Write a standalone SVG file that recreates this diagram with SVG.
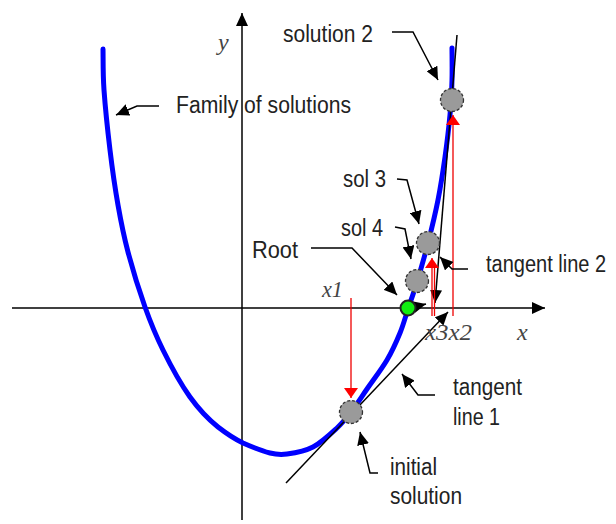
<svg xmlns="http://www.w3.org/2000/svg" width="616" height="524" viewBox="0 0 616 524">
<style>
.lbl{font-family:"Liberation Sans",Arial,sans-serif;font-size:23px;fill:#222}
.var{font-family:"Liberation Serif","Times New Roman",serif;font-style:italic;font-size:24px;fill:#444}
.ax{stroke:#000;stroke-width:1.5;fill:none}
.call{stroke:#000;stroke-width:1.5;fill:none;marker-end:url(#ah)}
.red{stroke:#e00;stroke-width:1.3;fill:none}
.sol{fill:#9a9a9a;stroke:#333;stroke-width:1.3;stroke-dasharray:3 2}
</style>
<defs>
<marker id="ah" markerUnits="userSpaceOnUse" markerWidth="14" markerHeight="12" refX="13" refY="6" orient="auto"><path d="M0,0 L13,6 L0,12 z" fill="#000"/></marker>
<marker id="rah" markerUnits="userSpaceOnUse" markerWidth="12" markerHeight="14" refX="10" refY="7" orient="auto"><path d="M0,0 L10,7 L0,14 z" fill="#f00"/></marker>
</defs>
<rect width="616" height="524" fill="#fff"/>
<g id="axes">
<path class="ax" d="M12,308 L545,308" marker-end="url(#ah)"/>
<path class="ax" d="M242,520 L242,13" marker-end="url(#ah)"/>
<text class="var" x="218" y="50">y</text>
<text class="var" x="517" y="340">x</text>
</g>
<g id="curve">
<path d="M103,49 C103.2,55.8 102.8,73.2 104,90 C105.2,106.8 107.7,130.8 110,150 C112.3,169.2 115,188 118,205 C121,222 123.5,235 128,252 C132.5,269 139.2,290.7 145,307 C150.8,323.3 155.5,334.8 163,350 C170.5,365.2 180,383 190,397 C199,409.5 208,419 218,427 C227,434 234.7,439 243,443 C251.3,446.7 262.7,451.2 270,453 C277.3,454.8 279.8,455 287,454 C294.2,453 304.7,451.3 313,447 C321.3,442.7 330.7,433.8 337,428 C343.3,422.2 346,418.5 351,412 C356,405.5 361,397.7 367,389 C373,380.3 381.5,369.3 387,360 C392.5,350.7 396.5,341.5 400,333 C403.5,324.5 405.2,317.5 408,309 C410.8,300.5 413.7,293 417,282 C420.3,271 424.5,256.7 428,243 C431.5,229.3 435.2,214.3 438,200 C440.8,185.7 443,171.2 445,157 C447,142.8 448.8,127.8 450,115 C451.2,102.2 451.7,91.2 452,80 C452.3,68.8 452,53.3 452,48" fill="none" stroke="#0000ff" stroke-width="5" stroke-linecap="round"/>
</g>
<g id="connectors">
<path class="call" d="M286,483 L448,312"/>
<path class="call" d="M457,35 L435,303"/>
<path class="call" d="M414,307 L426,304"/>
<path class="red" d="M351,298 L351,398" marker-end="url(#rah)"/>
<path class="red" d="M453,316 L453,115" marker-end="url(#rah)"/>
<path class="red" d="M432,316 L432,258" marker-end="url(#rah)"/>
<path class="red" d="M434.5,316 L434.5,266"/>
<path class="call" d="M392,32 L413,32 L438,80"/>
<path class="call" d="M159,106 L137,106 L116,115"/>
<path class="call" d="M397,179 L407,180 L419,224"/>
<path class="call" d="M395,227 L405,229 L411,259"/>
<path class="call" d="M311,248 L352,248 L397,295"/>
<path class="call" d="M468,269 L452,269 L440,257"/>
<path class="call" d="M435,395 L418,395 L402,374"/>
<path class="call" d="M378,473 L370,473 L360,432"/>
</g>
<g id="solution2"><circle class="sol" cx="452" cy="100" r="11.5"/><text class="lbl" x="283" y="42" textLength="90" lengthAdjust="spacingAndGlyphs">solution 2</text></g>
<g id="family"><text class="lbl" x="176" y="113" textLength="175" lengthAdjust="spacingAndGlyphs">Family of solutions</text></g>
<g id="sol3"><circle class="sol" cx="428" cy="243" r="11.5"/><text class="lbl" x="343" y="187" textLength="43" lengthAdjust="spacingAndGlyphs">sol 3</text></g>
<g id="sol4"><circle class="sol" cx="417" cy="281" r="11.5"/><text class="lbl" x="341" y="236" textLength="42" lengthAdjust="spacingAndGlyphs">sol 4</text></g>
<g id="root"><circle cx="408" cy="308" r="7.5" fill="#11ee11" stroke="#222" stroke-width="2"/><text class="lbl" x="252" y="258" textLength="46" lengthAdjust="spacingAndGlyphs">Root</text></g>
<g id="initial"><circle class="sol" cx="351" cy="412" r="11.5"/><text class="lbl" x="390" y="475" textLength="47" lengthAdjust="spacingAndGlyphs">initial</text><text class="lbl" x="390" y="504" textLength="72" lengthAdjust="spacingAndGlyphs">solution</text></g>
<g id="tangent1"><text class="lbl" x="453" y="395" textLength="69" lengthAdjust="spacingAndGlyphs">tangent</text><text class="lbl" x="453" y="425" textLength="47" lengthAdjust="spacingAndGlyphs">line 1</text></g>
<g id="tangent2"><text class="lbl" transform="translate(486,272) scale(0.87,1)" x="0" y="0">tangent line 2</text></g>
<g id="xlabels">
<text class="var" x="322" y="297" textLength="21" lengthAdjust="spacingAndGlyphs">x1</text>
<text class="var" x="425" y="340" textLength="47" lengthAdjust="spacingAndGlyphs">x3x2</text>
</g>
</svg>
